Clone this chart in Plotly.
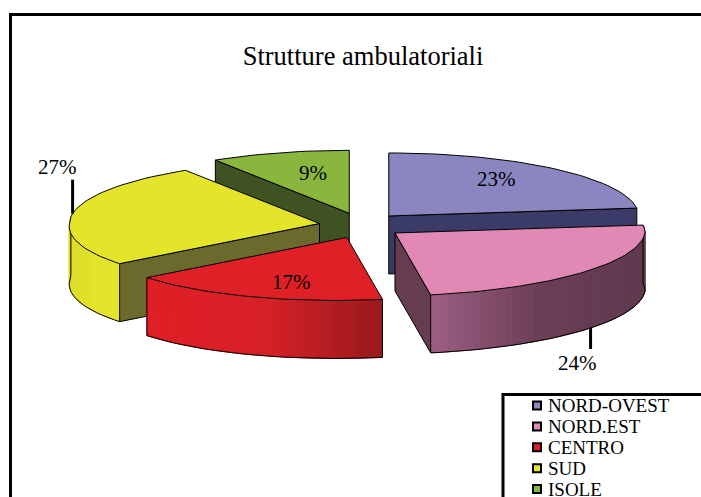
import numpy as np
import plotly.graph_objects as go

# --- data ---
title = "Strutture ambulatoriali"
categories = ["NORD-OVEST", "NORD.EST", "CENTRO", "SUD", "ISOLE"]
shares = [23, 24, 17, 27, 9]

# --- styles ---
top_colors = ["#8a87c0", "#e288b5", "#e02027", "#e4e42b", "#8ab63d"]
radial_wall_colors = ["#3a3b66", "#653c50", None, "#6b6a2c", "#3f5222"]
rim_stops = {
    0: ["#3a3b66", "#3a3b66", "#3a3b66"],
    1: ["#9c5f82", "#6c3f58", "#5f3a4e"],
    2: ["#e01f26", "#d72127", "#981a1d"],
    3: ["#dcdc2a", "#e4e42b", "#e4e42b"],
    4: ["#3f5222", "#3f5222", "#3f5222"],
}
FONT = "Liberation Serif"

# --- projected pie geometry (pixels of the 701x497 page) ---
CX, CY = 361.0, 225.5     # pie centre
RX, RY = 250.0, 63.0      # flattened radii
EX, EY = 42.0, 12.7       # explosion along each slice's mid angle
DEPTH = 58.0
SKEW = -0.18              # perspective pull on the near half

total = sum(shares)
edges = np.cumsum([0] + shares) / total * 360.0


def hexrgb(h):
    return np.array([int(h[i:i + 2], 16) for i in (1, 3, 5)], float)


def mix(stops, t):
    pos = [0, 0.5, 1]
    c = [np.interp(t, pos, [hexrgb(s)[k] for s in stops]) for k in range(3)]
    return "rgb(%d,%d,%d)" % tuple(c)


def apex(i):
    m = np.radians((edges[i] + edges[i + 1]) / 2)
    return CX + EX * np.sin(m), CY - EY * np.cos(m)


def rim(i, deg):
    ax, ay = apex(i)
    t = np.radians(deg)
    dy = -RY * np.cos(t)
    dx = RX * np.sin(t) + SKEW * np.maximum(0, dy)
    return ax + dx, ay + dy


fig = go.Figure()


def poly(xs, ys, fill, line="black", width=1):
    fig.add_trace(go.Scatter(
        x=list(xs), y=list(ys), mode="lines", fill="toself", fillcolor=fill,
        line=dict(color=line, width=width), hoverinfo="skip", showlegend=False))


def draw_slice(i):
    a0, a1 = edges[i], edges[i + 1]
    ax, ay = apex(i)
    degs = np.linspace(a0, a1, int((a1 - a0) / 2) + 2)
    rx_, ry_ = rim(i, degs)

    # back-to-front: radial wall, outer wall, top face
    wall = radial_wall_colors[i]
    if wall:
        side = a1 if i == 0 else a0 if i in (3, 4) else a1
        if i == 4:
            side = a0
        ex, ey = rim(i, side)
        poly([ax, ex, ex, ax, ax], [ay, ey, ey + DEPTH, ay + DEPTH, ay], wall)

    front = degs[(np.cos(np.radians(degs)) < 0.13)]
    if i in (1, 2, 3) and len(front) > 1:
        fx, fy = rim(i, front)
        lo, hi = fx.min(), fx.max()
        for k in range(len(front) - 1):
            t = ((fx[k] + fx[k + 1]) / 2 - lo) / (hi - lo)
            c = mix(rim_stops[i], t)
            poly([fx[k], fx[k + 1], fx[k + 1], fx[k], fx[k]],
                 [fy[k], fy[k + 1], fy[k + 1] + DEPTH, fy[k] + DEPTH, fy[k]],
                 c, line=c, width=1)
        # wall outline
        fig.add_trace(go.Scatter(
            x=np.r_[fx[0], fx[0], fx, fx[-1], fx[-1]].tolist(),
            y=np.r_[fy[0], fy[0] + DEPTH, fy + DEPTH, fy[-1] + DEPTH, fy[-1]].tolist(),
            mode="lines", line=dict(color="black", width=1),
            hoverinfo="skip", showlegend=False))

    poly(np.r_[ax, rx_, ax], np.r_[ay, ry_, ay], top_colors[i])


for idx in (4, 0, 3, 2, 1):
    draw_slice(idx)

# leader lines for the outside labels
for i, up, length in ((3, True, 34), (1, False, 21)):
    x0, y0 = rim(i, (edges[i] + edges[i + 1]) / 2)
    y0 = y0 if up else y0 + DEPTH
    y1 = y0 - length if up else y0 + length
    fig.add_trace(go.Scatter(x=[x0, x0], y=[y0, y1], mode="lines",
                             line=dict(color="black", width=3),
                             hoverinfo="skip", showlegend=False))

# percentage labels
label_pos = [(496, 179), (577, 363), (291, 282), (57, 167), (313, 173)]
annotations = [
    dict(x=p[0], y=p[1], xref="x", yref="y", text=f"{v}%", showarrow=False,
         font=dict(family=FONT, size=21, color="black"),
         xanchor="center", yanchor="middle")
    for v, p in zip(shares, label_pos)
]

# hand-built legend (rows are tighter than a Plotly legend allows)
LEG_MX, LEG_TX, LEG_Y0, LEG_DY = 537, 546, 405.5, 20.9
for i, name in enumerate(categories):
    fig.add_trace(go.Scatter(
        x=[LEG_MX], y=[LEG_Y0 + i * LEG_DY], mode="markers", name=name,
        marker=dict(symbol="square", size=8, color=top_colors[i],
                    line=dict(color="black", width=2)),
        hoverinfo="skip", showlegend=False))
    annotations.append(dict(
        x=LEG_TX, y=LEG_Y0 + i * LEG_DY, xref="x", yref="y", text=name,
        showarrow=False, xanchor="left", yanchor="middle",
        font=dict(family=FONT, size=19, color="black")))

fig.update_layout(
    width=701, height=497, autosize=False,
    margin=dict(l=0, r=0, t=0, b=0),
    paper_bgcolor="white", plot_bgcolor="white", showlegend=False,
    title=dict(text=title, x=363 / 701, y=1 - 56 / 497, xanchor="center",
               yanchor="middle", xref="paper", yref="paper",
               font=dict(family=FONT, size=26.5, color="black")),
    xaxis=dict(range=[0, 701], visible=False, fixedrange=True),
    yaxis=dict(range=[497, 0], visible=False, fixedrange=True),
    annotations=annotations,
    shapes=[
        dict(type="rect", xref="x", yref="y", x0=10.5, y0=14.5, x1=760, y1=560,
             line=dict(color="black", width=3), layer="below"),
        dict(type="rect", xref="x", yref="y", x0=503, y0=394.5, x1=760, y1=560,
             line=dict(color="black", width=3), layer="below"),
    ],
)

fig.write_html("out.html", config={"displayModeBar": False},
               post_script="document.body.style.margin='0';document.body.style.overflow='hidden';")
